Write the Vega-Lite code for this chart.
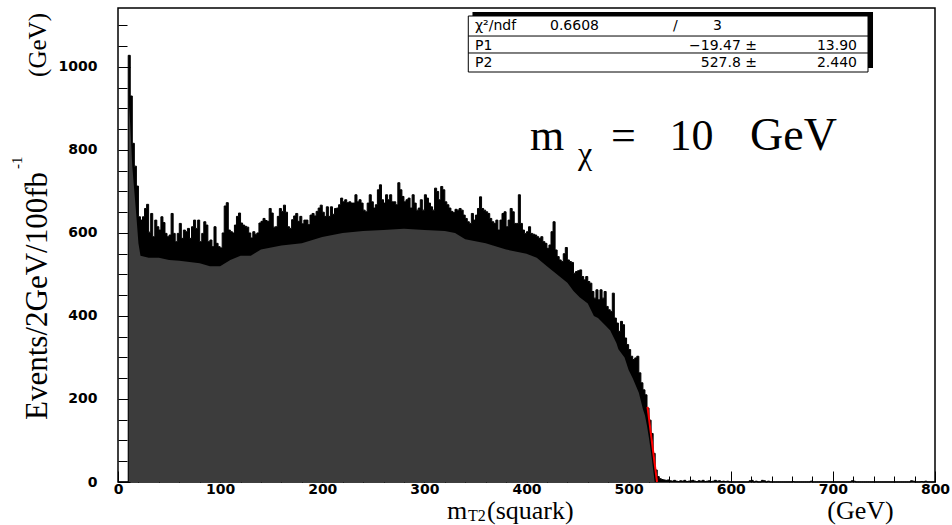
{
  "$schema": "https://vega.github.io/schema/vega-lite/v6.json",
  "width": 817,
  "height": 474,
  "autosize": {"type": "none"},
  "padding": {"left": 118, "top": 8, "right": 17, "bottom": 43},
  "background": "white",
  "config": {
    "view": {"stroke": "black", "strokeWidth": 1.5},
    "text": {"font": "Liberation Serif", "color": "black"},
    "axis": {"labelOverlap": false, "grid": false, "domain": false, "tickColor": "black", "tickWidth": 1, "labelColor": "black", "labelFont": "DejaVu Sans", "labelFontWeight": "bold", "labelFontSize": 14, "labelFlush": false}
  },
  "resolve": {"axis": {"x": "independent", "y": "independent"}},
  "datasets": {
    "h": [
      {"m":0,"n":0},{"m":2,"n":0},{"m":4,"n":0},{"m":6,"n":0},{"m":8,"n":0},
      {"m":10,"n":1028},{"m":12,"n":930},{"m":14,"n":816},{"m":16,"n":761},{"m":18,"n":713},
      {"m":20,"n":639},{"m":22,"n":631},{"m":24,"n":639},{"m":26,"n":659},{"m":28,"n":669},
      {"m":30,"n":602},{"m":32,"n":647},{"m":34,"n":591},{"m":36,"n":631},{"m":38,"n":615},
      {"m":40,"n":607},{"m":42,"n":639},{"m":44,"n":625},{"m":46,"n":599},{"m":48,"n":591},
      {"m":50,"n":595},{"m":52,"n":647},{"m":54,"n":599},{"m":56,"n":579},{"m":58,"n":599},
      {"m":60,"n":623},{"m":62,"n":587},{"m":64,"n":607},{"m":66,"n":603},{"m":68,"n":611},
      {"m":70,"n":587},{"m":72,"n":615},{"m":74,"n":631},{"m":76,"n":611},{"m":78,"n":631},
      {"m":80,"n":579},{"m":82,"n":599},{"m":84,"n":627},{"m":86,"n":619},{"m":88,"n":579},
      {"m":90,"n":583},{"m":92,"n":567},{"m":94,"n":615},{"m":96,"n":575},{"m":98,"n":567},
      {"m":100,"n":564},{"m":102,"n":600},{"m":104,"n":665},{"m":106,"n":673},{"m":108,"n":607},
      {"m":110,"n":603},{"m":112,"n":600},{"m":114,"n":619},{"m":116,"n":640},{"m":118,"n":648},
      {"m":120,"n":624},{"m":122,"n":619},{"m":124,"n":616},{"m":126,"n":614},{"m":128,"n":600},
      {"m":130,"n":588},{"m":132,"n":603},{"m":134,"n":597},{"m":136,"n":600},{"m":138,"n":624},
      {"m":140,"n":628},{"m":142,"n":635},{"m":144,"n":630},{"m":146,"n":628},{"m":148,"n":659},
      {"m":150,"n":648},{"m":152,"n":614},{"m":154,"n":615},{"m":156,"n":640},{"m":158,"n":659},
      {"m":160,"n":652},{"m":162,"n":667},{"m":164,"n":650},{"m":166,"n":615},{"m":168,"n":611},
      {"m":170,"n":632},{"m":172,"n":641},{"m":174,"n":647},{"m":176,"n":628},{"m":178,"n":640},
      {"m":180,"n":622},{"m":182,"n":631},{"m":184,"n":631},{"m":186,"n":620},{"m":188,"n":643},
      {"m":190,"n":647},{"m":192,"n":641},{"m":194,"n":652},{"m":196,"n":660},{"m":198,"n":667},
      {"m":200,"n":650},{"m":202,"n":640},{"m":204,"n":663},{"m":206,"n":640},{"m":208,"n":663},
      {"m":210,"n":645},{"m":212,"n":659},{"m":214,"n":660},{"m":216,"n":668},{"m":218,"n":684},
      {"m":220,"n":675},{"m":222,"n":680},{"m":224,"n":673},{"m":226,"n":675},{"m":228,"n":672},
      {"m":230,"n":672},{"m":232,"n":692},{"m":234,"n":675},{"m":236,"n":680},{"m":238,"n":672},
      {"m":240,"n":655},{"m":242,"n":651},{"m":244,"n":672},{"m":246,"n":692},{"m":248,"n":675},
      {"m":250,"n":660},{"m":252,"n":668},{"m":254,"n":704},{"m":256,"n":716},{"m":258,"n":680},
      {"m":260,"n":672},{"m":262,"n":692},{"m":264,"n":680},{"m":266,"n":692},{"m":268,"n":675},
      {"m":270,"n":675},{"m":272,"n":668},{"m":274,"n":721},{"m":276,"n":704},{"m":278,"n":688},
      {"m":280,"n":675},{"m":282,"n":680},{"m":284,"n":684},{"m":286,"n":660},{"m":288,"n":692},
      {"m":290,"n":672},{"m":292,"n":655},{"m":294,"n":660},{"m":296,"n":680},{"m":298,"n":655},
      {"m":300,"n":692},{"m":302,"n":684},{"m":304,"n":672},{"m":306,"n":663},{"m":308,"n":655},
      {"m":310,"n":708},{"m":312,"n":700},{"m":314,"n":680},{"m":316,"n":712},{"m":318,"n":704},
      {"m":320,"n":675},{"m":322,"n":668},{"m":324,"n":660},{"m":326,"n":652},{"m":328,"n":649},
      {"m":330,"n":657},{"m":332,"n":655},{"m":334,"n":659},{"m":336,"n":655},{"m":338,"n":643},
      {"m":340,"n":635},{"m":342,"n":627},{"m":344,"n":623},{"m":346,"n":647},{"m":348,"n":631},
      {"m":350,"n":643},{"m":352,"n":659},{"m":354,"n":687},{"m":356,"n":659},{"m":358,"n":655},
      {"m":360,"n":651},{"m":362,"n":647},{"m":364,"n":635},{"m":366,"n":627},{"m":368,"n":623},
      {"m":370,"n":631},{"m":372,"n":607},{"m":374,"n":631},{"m":376,"n":647},{"m":378,"n":651},
      {"m":380,"n":615},{"m":382,"n":631},{"m":384,"n":659},{"m":386,"n":651},{"m":388,"n":623},
      {"m":390,"n":623},{"m":392,"n":692},{"m":394,"n":623},{"m":396,"n":607},{"m":398,"n":599},
      {"m":400,"n":603},{"m":402,"n":615},{"m":404,"n":599},{"m":406,"n":597},{"m":408,"n":595},
      {"m":410,"n":591},{"m":412,"n":587},{"m":414,"n":591},{"m":416,"n":579},{"m":418,"n":575},
      {"m":420,"n":563},{"m":422,"n":571},{"m":424,"n":603},{"m":426,"n":627},{"m":428,"n":559},
      {"m":430,"n":543},{"m":432,"n":535},{"m":434,"n":531},{"m":436,"n":550},{"m":438,"n":565},
      {"m":440,"n":535},{"m":442,"n":531},{"m":444,"n":529},{"m":446,"n":503},{"m":448,"n":507},
      {"m":450,"n":509},{"m":452,"n":511},{"m":454,"n":495},{"m":456,"n":487},{"m":458,"n":495},
      {"m":460,"n":483},{"m":462,"n":479},{"m":464,"n":459},{"m":466,"n":443},{"m":468,"n":463},
      {"m":470,"n":439},{"m":472,"n":463},{"m":474,"n":443},{"m":476,"n":459},{"m":478,"n":423},
      {"m":480,"n":415},{"m":482,"n":411},{"m":484,"n":455},{"m":486,"n":395},{"m":488,"n":383},
      {"m":490,"n":363},{"m":492,"n":387},{"m":494,"n":379},{"m":496,"n":347},{"m":498,"n":331},
      {"m":500,"n":319},{"m":502,"n":303},{"m":504,"n":295},{"m":506,"n":299},{"m":508,"n":303},
      {"m":510,"n":263},{"m":512,"n":239},{"m":514,"n":222},{"m":516,"n":210},{"m":518,"n":178},
      {"m":520,"n":149},{"m":522,"n":117},{"m":524,"n":69},{"m":526,"n":29},{"m":528,"n":13},
      {"m":530,"n":8},{"m":532,"n":6},{"m":534,"n":5},{"m":536,"n":4},{"m":538,"n":5},
      {"m":540,"n":3},{"m":542,"n":2},{"m":544,"n":4},{"m":546,"n":2},{"m":548,"n":1},
      {"m":550,"n":3},{"m":552,"n":2},{"m":554,"n":4},{"m":556,"n":1},{"m":558,"n":2},
      {"m":560,"n":3},{"m":562,"n":4},{"m":564,"n":2},{"m":566,"n":1},{"m":568,"n":3},
      {"m":570,"n":2},{"m":572,"n":4},{"m":574,"n":1},{"m":576,"n":2},{"m":578,"n":3},
      {"m":580,"n":1},{"m":582,"n":2},{"m":584,"n":4},{"m":586,"n":2},{"m":588,"n":3},
      {"m":590,"n":1},{"m":592,"n":2},{"m":594,"n":1},{"m":596,"n":2},{"m":598,"n":0},
      {"m":600,"n":0},{"m":602,"n":0},{"m":604,"n":0},{"m":606,"n":0},{"m":608,"n":0},
      {"m":610,"n":0},{"m":612,"n":0},{"m":614,"n":0},{"m":616,"n":0},{"m":618,"n":3},
      {"m":620,"n":4},{"m":622,"n":0},{"m":624,"n":2},{"m":626,"n":0},{"m":628,"n":0},
      {"m":630,"n":4},{"m":632,"n":3},{"m":634,"n":0},{"m":636,"n":2},{"m":638,"n":0},
      {"m":640,"n":0},{"m":642,"n":0},{"m":644,"n":0},{"m":646,"n":0},{"m":648,"n":0},
      {"m":650,"n":0},{"m":652,"n":0},{"m":654,"n":0},{"m":656,"n":0},{"m":658,"n":0},
      {"m":660,"n":1},{"m":662,"n":0},{"m":664,"n":0},{"m":666,"n":0},{"m":668,"n":0},
      {"m":670,"n":0},{"m":672,"n":0},{"m":674,"n":0},{"m":676,"n":0},{"m":678,"n":2},
      {"m":680,"n":0},{"m":682,"n":0},{"m":684,"n":0},{"m":686,"n":0},{"m":688,"n":0},
      {"m":690,"n":0},{"m":692,"n":0},{"m":694,"n":0},{"m":696,"n":0},{"m":698,"n":0},
      {"m":700,"n":0},{"m":702,"n":0},{"m":704,"n":0},{"m":706,"n":0},{"m":708,"n":0},
      {"m":710,"n":0},{"m":712,"n":0},{"m":714,"n":0},{"m":716,"n":0},{"m":718,"n":3},
      {"m":720,"n":2},{"m":722,"n":0},{"m":724,"n":0},{"m":726,"n":0},{"m":728,"n":0},
      {"m":730,"n":0},{"m":732,"n":0},{"m":734,"n":0},{"m":736,"n":0},{"m":738,"n":0},
      {"m":740,"n":0},{"m":742,"n":0},{"m":744,"n":0},{"m":746,"n":0},{"m":748,"n":0},
      {"m":750,"n":0},{"m":752,"n":0},{"m":754,"n":0},{"m":756,"n":0},{"m":758,"n":0},
      {"m":760,"n":0},{"m":762,"n":0},{"m":764,"n":0},{"m":766,"n":0},{"m":768,"n":0},
      {"m":770,"n":0},{"m":772,"n":0},{"m":774,"n":0},{"m":776,"n":3},{"m":778,"n":2},
      {"m":780,"n":0},{"m":782,"n":0},{"m":784,"n":0},{"m":786,"n":1},{"m":788,"n":0},
      {"m":790,"n":2},{"m":792,"n":0},{"m":794,"n":0},{"m":796,"n":0},{"m":798,"n":0},
      {"m":800,"n":0}
    ],
    "edge": [
      {"m":10,"n":940},{"m":12,"n":860},{"m":14,"n":760},{"m":16,"n":700},{"m":18,"n":640},
      {"m":20,"n":575},{"m":22,"n":545},{"m":30,"n":540},{"m":40,"n":540},{"m":50,"n":535},
      {"m":60,"n":533},{"m":70,"n":530},{"m":80,"n":527},{"m":90,"n":520},{"m":100,"n":520},
      {"m":110,"n":535},{"m":120,"n":545},{"m":130,"n":545},{"m":140,"n":560},{"m":160,"n":570},
      {"m":180,"n":575},{"m":200,"n":590},{"m":220,"n":600},{"m":240,"n":605},{"m":260,"n":607},
      {"m":280,"n":610},{"m":300,"n":607},{"m":320,"n":605},{"m":330,"n":600},{"m":340,"n":585},
      {"m":360,"n":575},{"m":380,"n":560},{"m":400,"n":550},{"m":410,"n":540},{"m":420,"n":520},
      {"m":430,"n":500},{"m":440,"n":480},{"m":446,"n":460},{"m":452,"n":445},{"m":460,"n":430},
      {"m":466,"n":400},{"m":470,"n":395},{"m":478,"n":375},{"m":482,"n":365},{"m":488,"n":335},
      {"m":490,"n":320},{"m":496,"n":300},{"m":500,"n":270},{"m":504,"n":250},{"m":510,"n":215},
      {"m":512,"n":195},{"m":514,"n":175},{"m":516,"n":160},{"m":518,"n":135},{"m":520,"n":105},
      {"m":522,"n":70},{"m":524,"n":30},{"m":525.5,"n":0}
    ],
    "fit": [{"m": 518.5, "n": 181}, {"m": 527.8, "n": 0}]
  },
  "layer": [
    {
      "data": {"name": "h"},
      "mark": {"type": "area", "interpolate": "step-after", "fill": "black"},
      "encoding": {
        "x": {
          "field": "m", "type": "quantitative",
          "scale": {"domain": [0, 800], "nice": false, "zero": false},
          "axis": {
            "orient": "bottom",
            "values": [0,100,200,300,400,500,600,700,800],
            "format": "d",
            "tickSize": -11,
            "title": null,
            "labelPadding": 11
          }
        },
        "y": {
          "field": "n", "type": "quantitative",
          "scale": {"domain": [0, 1142], "nice": false, "zero": false},
          "axis": {
            "orient": "left",
            "values": [0,200,400,600,800,1000],
            "format": "d",
            "tickSize": -12,
            "title": null,
            "labelPadding": 33
          }
        }
      }
    },
    {
      "data": {"name": "edge"},
      "mark": {"type": "area", "interpolate": "linear", "fill": "#3c3c3c"},
      "encoding": {
        "x": {
          "field": "m", "type": "quantitative",
          "axis": {
            "orient": "bottom",
            "values": [20,40,60,80,120,140,160,180,220,240,260,280,320,340,360,380,420,440,460,480,520,540,560,580,620,640,660,680,720,740,760,780],
            "labels": false,
            "tickSize": -6,
            "title": null
          }
        },
        "y": {
          "field": "n", "type": "quantitative",
          "axis": {
            "orient": "left",
            "values": [50,100,150,250,300,350,450,500,550,650,700,750,850,900,950,1050,1100],
            "labels": false,
            "tickSize": -9,
            "title": null
          }
        }
      }
    },
    {
      "data": {"name": "h"},
      "mark": {"type": "line", "interpolate": "step-after", "stroke": "black", "strokeWidth": 1},
      "encoding": {
        "x": {"field": "m", "type": "quantitative", "axis": null},
        "y": {"field": "n", "type": "quantitative", "axis": null}
      }
    },
    {
      "data": {"name": "fit"},
      "mark": {"type": "line", "stroke": "#ff0000", "strokeWidth": 2},
      "encoding": {
        "x": {"field": "m", "type": "quantitative", "axis": null},
        "y": {"field": "n", "type": "quantitative", "axis": null}
      }
    },
    {
      "data": {"values": [{}]},
      "layer": [
        {"mark": {"type": "rect", "fill": "black"},
         "encoding": {"x": {"datum": 347.1, "axis": null}, "x2": {"datum": 739.3}, "y": {"datum": 1132.4, "axis": null}, "y2": {"datum": 997.4}}},
        {"mark": {"type": "rect", "fill": "white", "stroke": "black", "strokeWidth": 1},
         "encoding": {"x": {"datum": 343.0, "axis": null}, "x2": {"datum": 734.4}, "y": {"datum": 1122.7, "axis": null}, "y2": {"datum": 987.8}}},
        {"mark": {"type": "rule", "stroke": "black", "strokeWidth": 1},
         "encoding": {"x": {"datum": 343.0, "axis": null}, "x2": {"datum": 734.4}, "y": {"datum": 1074.5, "axis": null}}},
        {"mark": {"type": "rule", "stroke": "black", "strokeWidth": 1},
         "encoding": {"x": {"datum": 343.0, "axis": null}, "x2": {"datum": 734.4}, "y": {"datum": 1033.6, "axis": null}}},
        {"mark": {"type": "text", "text": "χ²/ndf", "font": "DejaVu Sans", "fontSize": 14, "align": "left", "baseline": "alphabetic"},
         "encoding": {"x": {"datum": 349.6, "axis": null}, "y": {"datum": 1089, "axis": null}}},
        {"mark": {"type": "text", "text": "0.6608", "font": "DejaVu Sans", "fontSize": 14, "align": "left", "baseline": "alphabetic"},
         "encoding": {"x": {"datum": 423.0, "axis": null}, "y": {"datum": 1089, "axis": null}}},
        {"mark": {"type": "text", "text": "/", "font": "DejaVu Sans", "fontSize": 14, "align": "left", "baseline": "alphabetic"},
         "encoding": {"x": {"datum": 543.5, "axis": null}, "y": {"datum": 1089, "axis": null}}},
        {"mark": {"type": "text", "text": "3", "font": "DejaVu Sans", "fontSize": 14, "align": "left", "baseline": "alphabetic"},
         "encoding": {"x": {"datum": 582.6, "axis": null}, "y": {"datum": 1089, "axis": null}}},
        {"mark": {"type": "text", "text": "P1", "font": "DejaVu Sans", "fontSize": 14, "align": "left", "baseline": "alphabetic"},
         "encoding": {"x": {"datum": 349.6, "axis": null}, "y": {"datum": 1040.8, "axis": null}}},
        {"mark": {"type": "text", "text": "−19.47 ±", "font": "DejaVu Sans", "fontSize": 14, "align": "right", "baseline": "alphabetic"},
         "encoding": {"x": {"datum": 625.7, "axis": null}, "y": {"datum": 1040.8, "axis": null}}},
        {"mark": {"type": "text", "text": "13.90", "font": "DejaVu Sans", "fontSize": 14, "align": "right", "baseline": "alphabetic"},
         "encoding": {"x": {"datum": 723.6, "axis": null}, "y": {"datum": 1040.8, "axis": null}}},
        {"mark": {"type": "text", "text": "P2", "font": "DejaVu Sans", "fontSize": 14, "align": "left", "baseline": "alphabetic"},
         "encoding": {"x": {"datum": 349.6, "axis": null}, "y": {"datum": 999.8, "axis": null}}},
        {"mark": {"type": "text", "text": "527.8 ±", "font": "DejaVu Sans", "fontSize": 14, "align": "right", "baseline": "alphabetic"},
         "encoding": {"x": {"datum": 625.7, "axis": null}, "y": {"datum": 999.8, "axis": null}}},
        {"mark": {"type": "text", "text": "2.440", "font": "DejaVu Sans", "fontSize": 14, "align": "right", "baseline": "alphabetic"},
         "encoding": {"x": {"datum": 723.6, "axis": null}, "y": {"datum": 999.8, "axis": null}}},
        {"mark": {"type": "text", "text": "m", "fontSize": 44, "align": "center", "baseline": "alphabetic"},
         "encoding": {"x": {"datum": 420.1, "axis": null}, "y": {"datum": 799.9, "axis": null}}},
        {"mark": {"type": "text", "text": "χ", "fontSize": 32, "align": "center", "baseline": "alphabetic"},
         "encoding": {"x": {"datum": 457.3, "axis": null}, "y": {"datum": 765, "axis": null}}},
        {"mark": {"type": "text", "text": "=", "fontSize": 44, "align": "center", "baseline": "alphabetic"},
         "encoding": {"x": {"datum": 495.0, "axis": null}, "y": {"datum": 799.9, "axis": null}}},
        {"mark": {"type": "text", "text": "10", "fontSize": 44, "align": "center", "baseline": "alphabetic"},
         "encoding": {"x": {"datum": 561.6, "axis": null}, "y": {"datum": 799.9, "axis": null}}},
        {"mark": {"type": "text", "text": "GeV", "fontSize": 46, "align": "center", "baseline": "alphabetic"},
         "encoding": {"x": {"datum": 661.4, "axis": null}, "y": {"datum": 799.9, "axis": null}}},
        {"mark": {"type": "text", "text": "m", "fontSize": 26, "align": "left", "baseline": "alphabetic"},
         "encoding": {"x": {"datum": 322.2, "axis": null}, "y": {"datum": -89.1, "axis": null}}},
        {"mark": {"type": "text", "text": "T2", "fontSize": 16, "align": "left", "baseline": "alphabetic"},
         "encoding": {"x": {"datum": 342.7, "axis": null}, "y": {"datum": -93.9, "axis": null}}},
        {"mark": {"type": "text", "text": "(squark)", "fontSize": 26, "align": "left", "baseline": "alphabetic"},
         "encoding": {"x": {"datum": 361.3, "axis": null}, "y": {"datum": -89.1, "axis": null}}},
        {"mark": {"type": "text", "text": "(GeV)", "fontSize": 26, "align": "center", "baseline": "alphabetic"},
         "encoding": {"x": {"datum": 727.0, "axis": null}, "y": {"datum": -89.1, "axis": null}}},
        {"mark": {"type": "text", "text": "Events/2GeV/100fb", "fontSize": 31, "angle": 270, "align": "left", "baseline": "middle"},
         "encoding": {"x": {"datum": -78.3, "axis": null}, "y": {"datum": 149.4, "axis": null}}},
        {"mark": {"type": "text", "text": "-1", "fontSize": 15, "angle": 270, "align": "left", "baseline": "middle"},
         "encoding": {"x": {"datum": -99, "axis": null}, "y": {"datum": 754, "axis": null}}},
        {"mark": {"type": "text", "text": "(GeV)", "fontSize": 25, "angle": 270, "align": "center", "baseline": "middle"},
         "encoding": {"x": {"datum": -78.8, "axis": null}, "y": {"datum": 1052.9, "axis": null}}}
      ]
    }
  ]
}
